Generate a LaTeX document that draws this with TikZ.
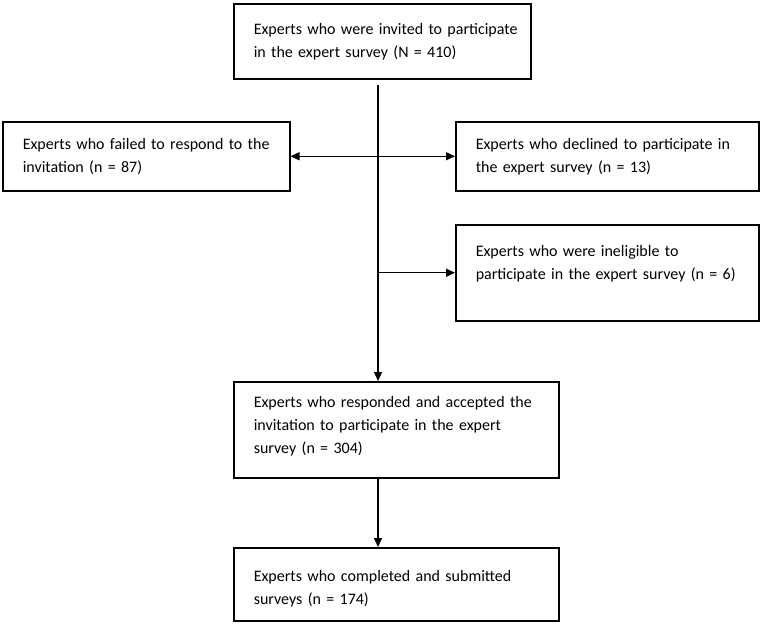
\documentclass[tikz,border=0pt]{standalone}
\usepackage{fontspec}
\setmainfont{Carlito}
\usepackage{tikz}
\usetikzlibrary{arrows.meta}

\tikzset{
	box/.style={draw, line width=1.5pt, anchor=north west, align=left, inner xsep=20pt,
		font=\fontsize{16}{23}\selectfont},
	arrow/.style={line width=1.4pt, -{Triangle[length=9pt,width=8pt]}}
}

\begin{document}
\begin{tikzpicture}[x=1pt,y=-1pt]
\path[fill=white] (0,0) rectangle (760,624);

\node[box, minimum width=297pt, minimum height=75pt, text width=257pt] (invited) at (233,3)
	{\mbox{Experts who were invited to participate}\\in the expert survey (N = 410)};
\node[box, minimum width=287pt, minimum height=69pt, text width=247pt] (noreply) at (2,121)
	{Experts who failed to respond to the\\invitation (n = 87)};
\node[box, minimum width=303pt, minimum height=69pt, text width=263pt] (declined) at (455,121)
	{Experts who declined to participate in\\the expert survey (n = 13)};
\node[box, minimum width=303pt, minimum height=96pt, text width=263pt, text depth=43.5pt] (ineligible) at (455,224)
	{Experts who were ineligible to\\participate in the expert survey (n = 6)};
\node[box, minimum width=325pt, minimum height=96pt, text width=285pt, text depth=56.5pt] (accepted) at (233,381)
	{Experts who responded and accepted the\\invitation to participate in the expert\\survey (n = 304)};
\node[box, minimum width=325pt, minimum height=73pt, text width=285pt, text height=21pt] (completed) at (233,547)
	{Experts who completed and submitted\\surveys (n = 174)};

\coordinate (trunk) at (378,85);
\draw[arrow] (trunk) -- (trunk |- accepted.north);
\draw[arrow, {Triangle[length=9pt,width=8pt]}-{Triangle[length=9pt,width=8pt]}]
	(noreply.east) -- (noreply.east -| declined.west);
\draw[arrow] (trunk |- ineligible.west) -- (ineligible.west);
\draw[arrow] (trunk |- accepted.south) -- (trunk |- completed.north);
\end{tikzpicture}
\end{document}
